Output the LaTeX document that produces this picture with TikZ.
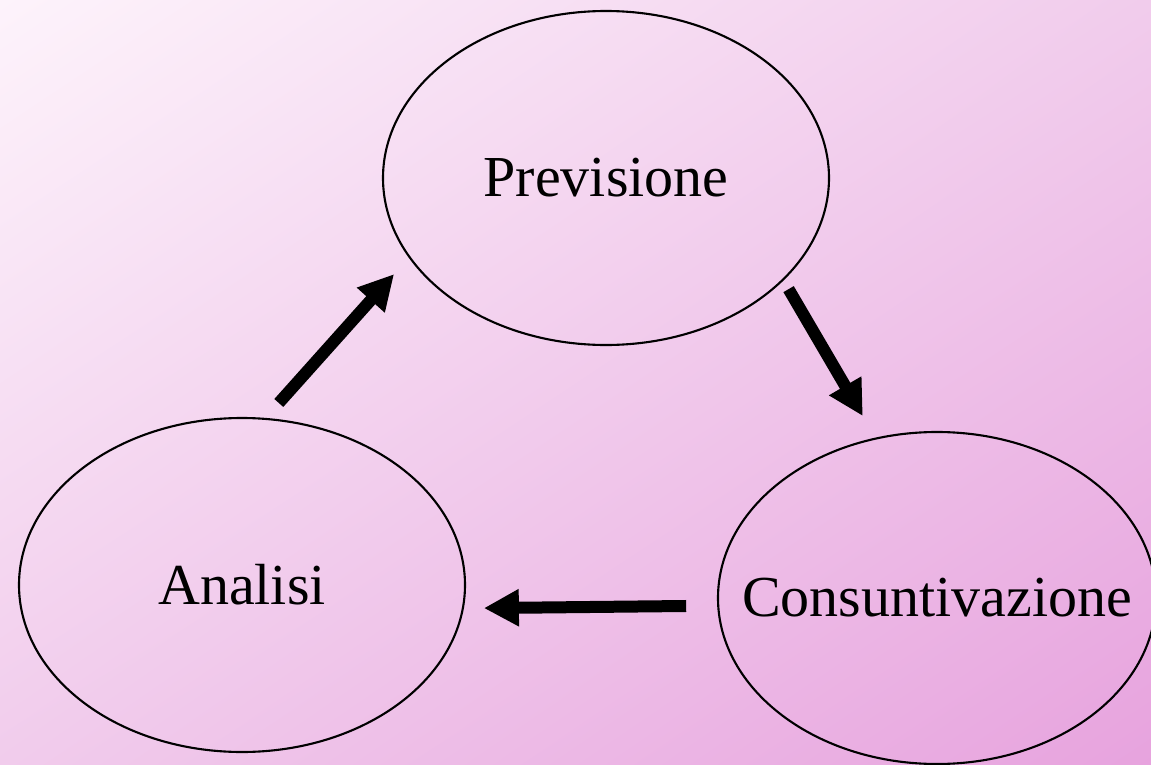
\documentclass[tikz,border=0pt]{standalone}
\usepackage{fontspec}
\setmainfont{Liberation Serif}
\usepackage{tikz}
\usetikzlibrary{shapes.geometric, arrows.meta, shadings}
\definecolor{bgtopleft}{RGB}{253,243,251}
\definecolor{bgmid}{RGB}{241,204,236}
\definecolor{bgbotright}{RGB}{231,163,222}

\begin{document}
\begin{tikzpicture}[
        phase/.style={ellipse, draw=black, line width=0.6pt, inner sep=0pt,
                      minimum width=4.46cm, minimum height=3.34cm,
                      label={[font=\fontsize{16.5}{20}\selectfont]center:#1}},
        arrow/.style={-{Triangle[length=0.35cm, width=0.35cm]}, black,
                      line width=0.12cm}
      ]
        % Background
        \useasboundingbox (0,0) rectangle (11.51,-7.65);
        \clip (0,0) rectangle (11.51,-7.65);
        \shade[upper left=bgtopleft, upper right=bgmid,
               lower left=bgmid, lower right=bgbotright]
          (0,0) rectangle (11.51,-7.65);
        % Nodes — manually placed
        \node[phase=Previsione] (prev) at (6.06, -1.78) {};
        \node[phase=Analisi] (anal) at (2.42, -5.85) {};
        \node[phase=Consuntivazione, minimum width=4.38cm, minimum height=3.32cm]
          (cons) at (9.37, -5.98) {};
        % Edges
        \draw[arrow, shorten <=0.2cm, shorten >=0.22cm] (anal.82) -- (prev.202);
        \draw[arrow, shorten <=0.1cm, shorten >=0.25cm] (prev.330.6) -- (cons.111.5);
        \draw[arrow, shorten <=0.31cm, shorten >=0.2cm] (cons.182.4) -- (anal.354.3);
      \end{tikzpicture}
\end{document}
